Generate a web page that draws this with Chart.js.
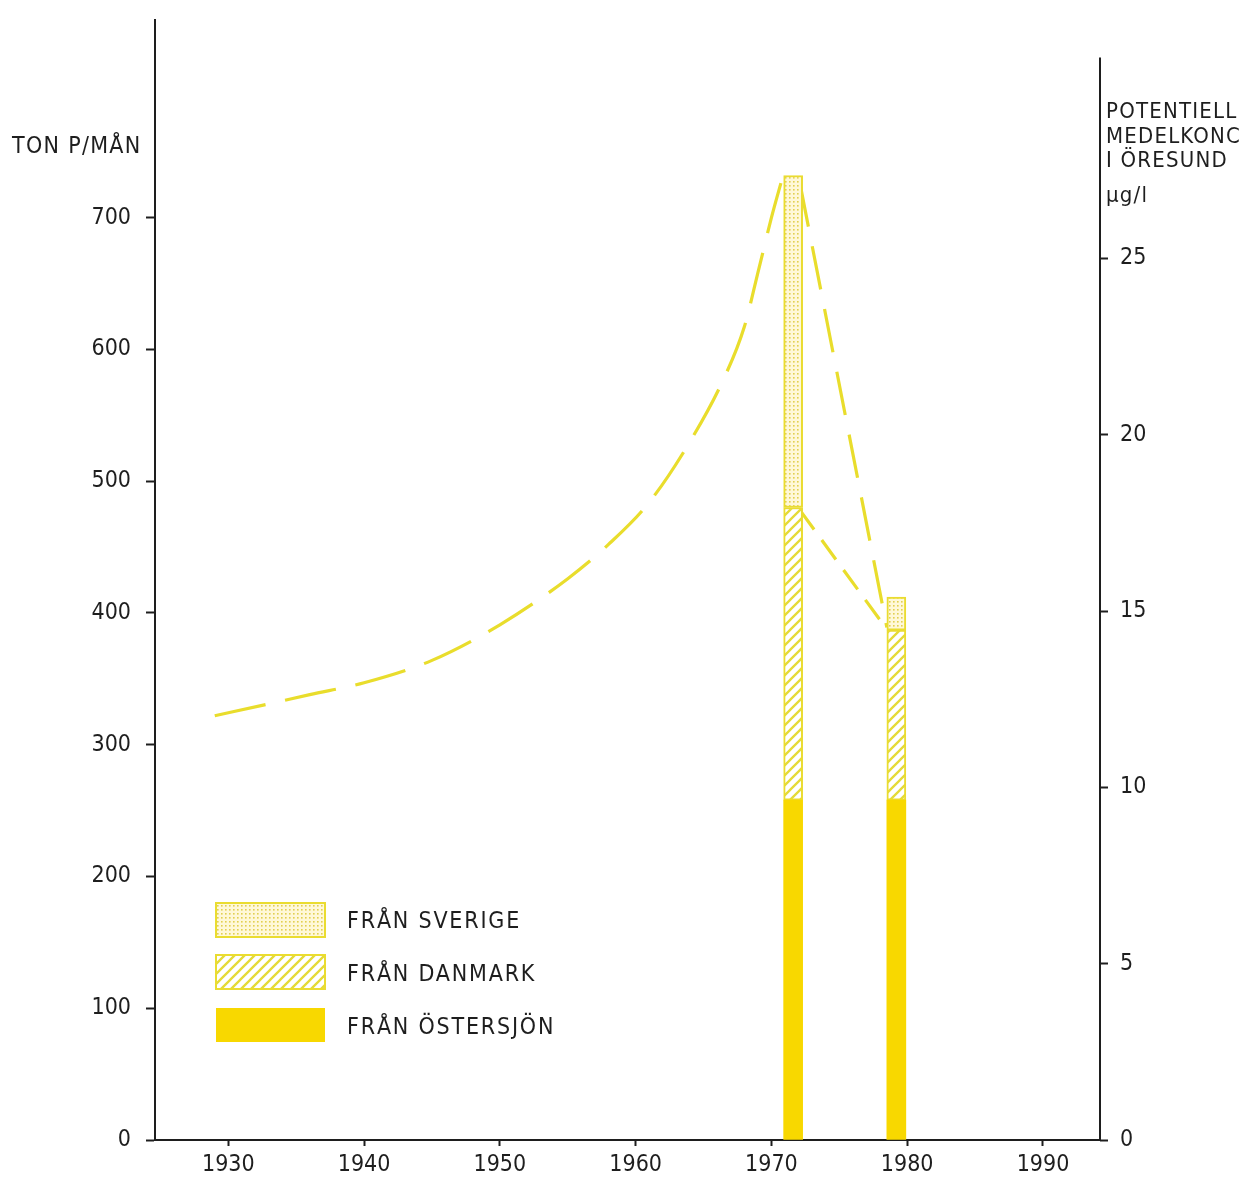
<!DOCTYPE html>
<html><head><meta charset="utf-8">
<script src="https://cdn.jsdelivr.net/npm/chart.js@4"></script>
<style>html,body{margin:0;padding:0;background:#fff;overflow:hidden}#wrap{width:1248px;height:1178px;position:relative;background:#fff}</style>
</head><body><div id="wrap"><canvas id="c" width="1248" height="1178" style="width:1248px;height:1178px"></canvas></div>
<script>
// ---- data ----
const barYears = [1971.6, 1979.2];
const fromOstersjon = [258, 258];
const fromDanmark = [222, 129];
const fromSverige = [252, 25];

const curveYears  = [1929, 1933, 1936, 1940, 1945, 1950, 1955, 1958, 1961, 1964, 1966.5, 1968, 1969, 1970, 1970.8];
const curveValues = [322, 331, 338, 347, 364, 391, 426, 452, 484, 530, 578, 617, 658, 700, 730];

const descentYears  = [1972.1, 1978.5];
const descentValues = [726, 389];

const danmarkLineYears  = [1972.1, 1978.4];
const danmarkLineValues = [478, 389];

const xTicks  = [1930, 1940, 1950, 1960, 1970, 1980, 1990];
const yTicks  = [0, 100, 200, 300, 400, 500, 600, 700];
const y2Ticks = [0, 5, 10, 15, 20, 25];

const legendLabels = ['FRÅN SVERIGE', 'FRÅN DANMARK', 'FRÅN ÖSTERSJÖN'];
const leftTitle = 'TON P/MÅN';
const rightTitle = ['POTENTIELL', 'MEDELKONC', 'I ÖRESUND', 'µg/l'];

// ---- scale setup ----
const X_MIN = 1924.6, X_MAX = 1994.2;
const Y_MAX = 850;
const TON_PER_UG = 26.76;       // 700 ton on the left lines up with ~26.2 µg/l on the right
const RIGHT_AXIS_TOP = 30.7;    // where the right axis line starts (µg/l)

const INK = '#1e1e1e';
const SOLID = '#f8d800';
const LINE = '#e9dd2c';
const OUTLINE = '#eadc30';
const FONT = 'DejaVu Sans Condensed';

function makePattern(size, draw) {
  const c = document.createElement('canvas');
  c.width = c.height = size;
  const g = c.getContext('2d');
  draw(g, size);
  return g.createPattern(c, 'repeat');
}
const dotPat = makePattern(4, (g, s) => {
  g.fillStyle = '#fff8d8'; g.fillRect(0, 0, s, s);
  g.fillStyle = '#e2d050'; g.fillRect(1, 1, 1.6, 1.6);
});
const hatchPat = makePattern(10, (g, s) => {
  g.fillStyle = '#ffffff'; g.fillRect(0, 0, s, s);
  g.strokeStyle = '#e4da38'; g.lineWidth = 2.3;
  g.beginPath();
  g.moveTo(-2, s + 2); g.lineTo(s + 2, -2);
  g.moveTo(-2, 2); g.lineTo(2, -2);
  g.moveTo(s - 2, s + 2); g.lineTo(s + 2, s - 2);
  g.stroke();
});

const pts = (xs, ys) => xs.map((x, i) => ({ x, y: ys[i] }));

const decor = {
  id: 'decor',
  afterDraw(chart) {
    const ctx = chart.ctx;
    const ca = chart.chartArea;
    const y2 = chart.scales.y2;
    ctx.save();
    // right axis line
    ctx.strokeStyle = INK; ctx.lineWidth = 2;
    ctx.beginPath();
    ctx.moveTo(ca.right, y2.getPixelForValue(RIGHT_AXIS_TOP));
    ctx.lineTo(ca.right, ca.bottom + 1);
    ctx.stroke();

    ctx.fillStyle = INK;
    ctx.textBaseline = 'alphabetic';
    ctx.textAlign = 'left';
    // left title
    ctx.font = `23px "${FONT}"`;
    ctx.letterSpacing = '1.3px';
    ctx.fillText(leftTitle, 12, 153);
    // right title
    ctx.font = `22px "${FONT}"`;
    ctx.letterSpacing = '1.2px';
    const rBase = [118, 143, 167, 202];
    rightTitle.forEach((t, i) => ctx.fillText(t, ca.right + 6, rBase[i]));

    // legend
    const boxes = [
      { y: 903, fill: dotPat, stroke: OUTLINE },
      { y: 955, fill: hatchPat, stroke: OUTLINE },
      { y: 1008, fill: SOLID, stroke: null }
    ];
    const bases = [928, 981, 1034];
    ctx.font = `23px "${FONT}"`;
    ctx.letterSpacing = '1.8px';
    boxes.forEach((b, i) => {
      ctx.fillStyle = b.fill;
      ctx.fillRect(216, b.y, 109, 34);
      if (b.stroke) {
        ctx.strokeStyle = b.stroke; ctx.lineWidth = 2;
        ctx.strokeRect(216, b.y, 109, 34);
      }
      ctx.fillStyle = INK;
      ctx.fillText(legendLabels[i], 347, bases[i]);
    });
    ctx.restore();
  }
};

function zeroPad(s) { s.paddingTop = 0; s.paddingBottom = 0; s.paddingLeft = 0; s.paddingRight = 0; }

function build() {
  const tickFont = { family: FONT, size: 23 };
  new Chart(document.getElementById('c'), {
    type: 'bar',
    data: {
      datasets: [
        { label: legendLabels[2], data: pts(barYears, fromOstersjon), backgroundColor: SOLID, borderWidth: 0,
          barThickness: 19, order: 1, stack: 'bars' },
        { label: legendLabels[1], data: pts(barYears, fromDanmark), backgroundColor: hatchPat, borderColor: OUTLINE,
          borderWidth: 2, borderSkipped: false, barThickness: 19, order: 1, stack: 'bars' },
        { label: legendLabels[0], data: pts(barYears, fromSverige), backgroundColor: dotPat, borderColor: OUTLINE,
          borderWidth: 2, borderSkipped: false, barThickness: 19, order: 1, stack: 'bars' },
        { type: 'line', label: 'trend', data: pts(curveYears, curveValues), borderColor: LINE, borderWidth: 3.2,
          borderDash: [52, 20], pointRadius: 0, fill: false, cubicInterpolationMode: 'monotone', order: 2, stack: 's1' },
        { type: 'line', label: 'descent', data: pts(descentYears, descentValues), borderColor: LINE, borderWidth: 3.2,
          borderDash: [44, 20], pointRadius: 0, fill: false, tension: 0, order: 2, stack: 's2' },
        { type: 'line', label: 'danmark', data: pts(danmarkLineYears, danmarkLineValues), borderColor: LINE, borderWidth: 3.2,
          borderDash: [24, 13], pointRadius: 0, fill: false, tension: 0, order: 2, stack: 's3' }
      ]
    },
    options: {
      responsive: false,
      animation: false,
      devicePixelRatio: 1,
      layout: { padding: { top: 20, left: 0, right: 0, bottom: 0 } },
      plugins: { legend: { display: false }, tooltip: { enabled: false } },
      scales: {
        x: {
          type: 'linear', min: X_MIN, max: X_MAX, stacked: true, offset: false,
          afterBuildTicks: s => { s.ticks = xTicks.map(v => ({ value: v })); },
          afterFit: s => { s.height = 38; zeroPad(s); },
          grid: { display: true, drawOnChartArea: false, drawTicks: true, tickLength: 6, tickColor: INK, tickWidth: 2, offset: false },
          border: { display: true, color: INK, width: 2 },
          ticks: { font: tickFont, color: INK, padding: 5, maxRotation: 0, autoSkip: false, callback: v => String(v) }
        },
        y: {
          type: 'linear', position: 'left', min: 0, max: Y_MAX, stacked: true,
          afterBuildTicks: s => { s.ticks = yTicks.map(v => ({ value: v })); },
          afterFit: s => { s.width = 155; zeroPad(s); },
          grid: { display: true, drawOnChartArea: false, drawTicks: true, tickLength: 9, tickColor: INK, tickWidth: 2 },
          border: { display: true, color: INK, width: 2 },
          ticks: { font: tickFont, color: INK, padding: 15, callback: v => String(v) }
        },
        y2: {
          type: 'linear', position: 'right', min: 0, max: Y_MAX / TON_PER_UG,
          afterBuildTicks: s => { s.ticks = y2Ticks.map(v => ({ value: v })); },
          afterFit: s => { s.width = 148; zeroPad(s); },
          grid: { display: true, drawOnChartArea: false, drawTicks: true, tickLength: 8, tickColor: INK, tickWidth: 2 },
          border: { display: false },
          ticks: { font: tickFont, color: INK, padding: 12, callback: v => String(v) }
        }
      }
    },
    plugins: [decor]
  });
}
document.fonts.load(`22px "${FONT}"`).then(build, build);
</script>
</body></html>
